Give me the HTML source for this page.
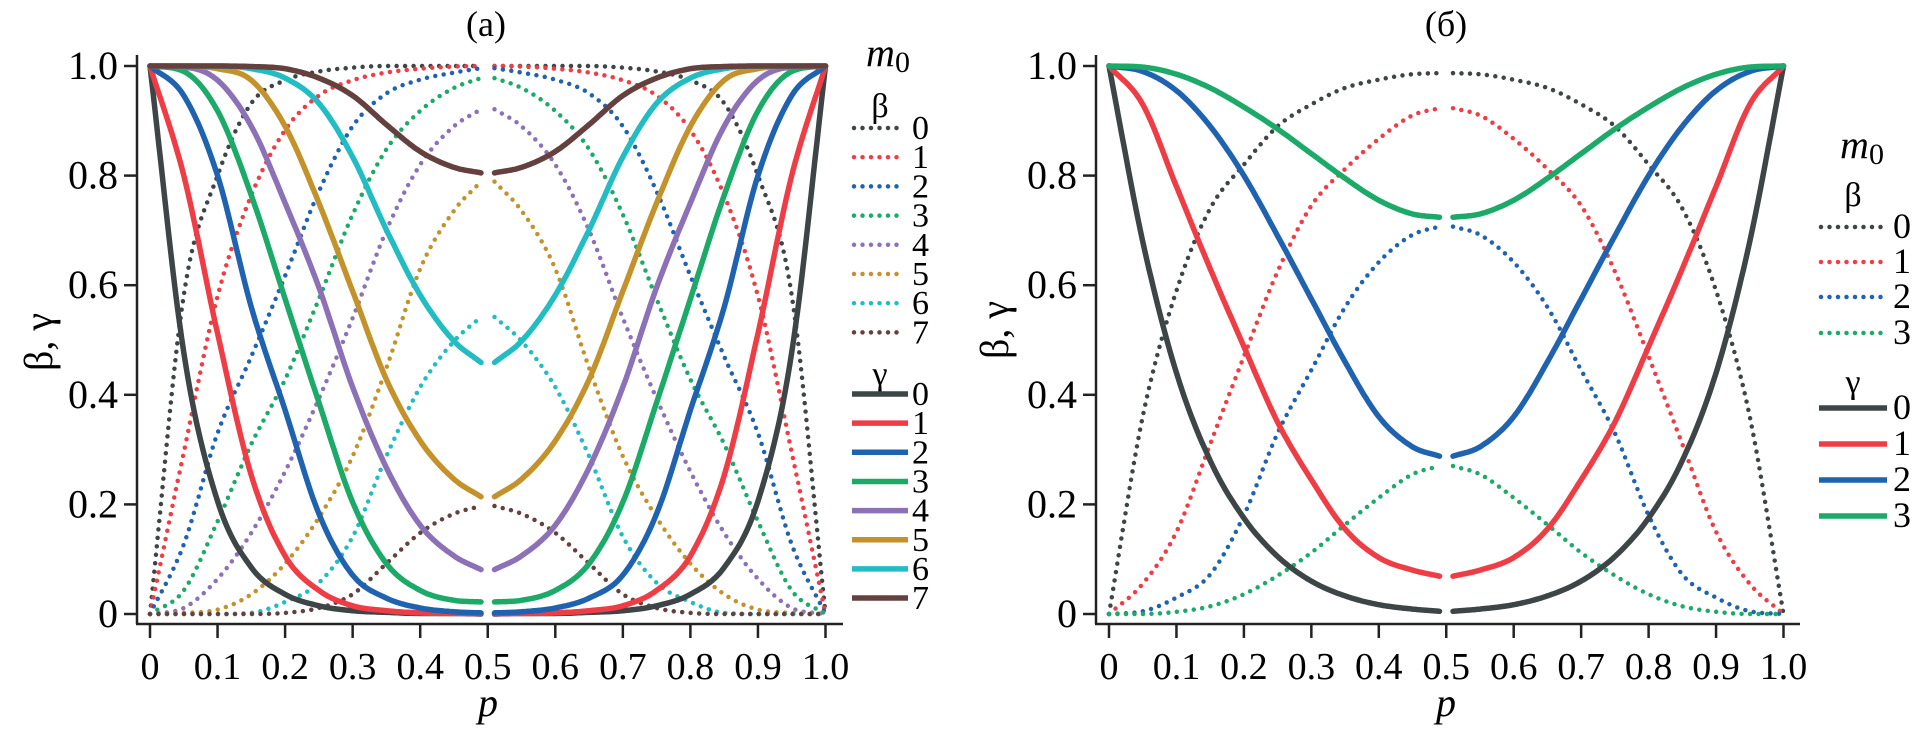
<!DOCTYPE html>
<html><head><meta charset="utf-8"><style>
html,body{margin:0;padding:0;background:#fff;}
svg{display:block;}
svg text{font-family:"Liberation Serif","Times New Roman",serif;}
</style></head><body>
<svg id="chart" width="1913" height="729" viewBox="0 0 1913 729">
<text x="486" y="36" font-size="36" text-anchor="middle">(а)</text>
<text x="1446" y="36" font-size="36" text-anchor="middle">(б)</text>
<text transform="translate(52,342) rotate(-90)" font-size="40" text-anchor="middle">β, γ</text>
<text transform="translate(1008,330) rotate(-90)" font-size="40" text-anchor="middle">β, γ</text>
<text x="488" y="716" font-size="40" font-style="italic" text-anchor="middle">p</text>
<text x="1446" y="716" font-size="40" font-style="italic" text-anchor="middle">p</text>
<g id="layer"></g>
</svg>
<script>
// ---- data ----
const pHalf = [0, 0.05, 0.10, 0.15, 0.20, 0.25, 0.30, 0.35, 0.40, 0.45, 0.49];
const xTicks = [0, 0.1, 0.2, 0.3, 0.4, 0.5, 0.6, 0.7, 0.8, 0.9, 1.0];
const xTickLabels = ["0","0.1","0.2","0.3","0.4","0.5","0.6","0.7","0.8","0.9","1.0"];
const yTicks = [0, 0.2, 0.4, 0.6, 0.8, 1.0];
const yTickLabels = ["0","0.2","0.4","0.6","0.8","1.0"];
const mLabelsA = ["0","1","2","3","4","5","6","7"];
const mLabelsB = ["0","1","2","3"];
// panel (a) gamma
const gammaA0 = [1, 0.477, 0.206, 0.085, 0.036, 0.015, 0.006, 0.003, 0.001, 0.001, 0.0];
const gammaA1 = [1, 0.80, 0.512, 0.253, 0.106, 0.043, 0.015, 0.006, 0.002, 0.001, 0.001];
const gammaA2 = [1, 0.946, 0.80, 0.56, 0.372, 0.183, 0.071, 0.029, 0.011, 0.004, 0.002];
const gammaA3 = [1, 0.99, 0.918, 0.764, 0.575, 0.386, 0.204, 0.092, 0.043, 0.025, 0.022];
const gammaA4 = [1, 0.998, 0.974, 0.89, 0.75, 0.596, 0.414, 0.267, 0.162, 0.106, 0.081];
const gammaA5 = [1, 1, 0.995, 0.974, 0.89, 0.75, 0.589, 0.428, 0.316, 0.246, 0.214];
const gammaA6 = [1, 1, 1, 0.995, 0.978, 0.932, 0.834, 0.701, 0.582, 0.498, 0.459];
const gammaA7 = [1, 1, 1, 0.999, 0.995, 0.978, 0.946, 0.893, 0.844, 0.815, 0.805];
// panel (a) beta
const betaA0 = [0, 0.582, 0.80, 0.932, 0.974, 0.99, 0.997, 1, 1, 1, 1];
const betaA1 = [0, 0.295, 0.58, 0.764, 0.883, 0.946, 0.974, 0.988, 0.995, 0.999, 1];
const betaA2 = [0, 0.127, 0.33, 0.47, 0.617, 0.771, 0.89, 0.95, 0.975, 0.988, 0.996];
const betaA3 = [0, 0.043, 0.169, 0.31, 0.428, 0.575, 0.729, 0.848, 0.918, 0.96, 0.978];
const betaA4 = [0, 0.011, 0.064, 0.148, 0.26, 0.393, 0.54, 0.70, 0.82, 0.89, 0.921];
const betaA5 = [0, 0.002, 0.008, 0.036, 0.092, 0.176, 0.288, 0.449, 0.63, 0.736, 0.789];
const betaA6 = [0, 0, 0, 0.002, 0.022, 0.057, 0.141, 0.288, 0.414, 0.498, 0.542];
const betaA7 = [0, 0, 0, 0, 0.002, 0.011, 0.036, 0.092, 0.148, 0.183, 0.197];
// panel (b) gamma
const gammaB0 = [1, 0.68, 0.44, 0.28, 0.175, 0.105, 0.06, 0.033, 0.017, 0.009, 0.005];
const gammaB1 = [1, 0.93, 0.78, 0.63, 0.488, 0.35, 0.245, 0.155, 0.103, 0.08, 0.069];
const gammaB2 = [1, 0.99, 0.955, 0.89, 0.80, 0.69, 0.575, 0.46, 0.36, 0.305, 0.288];
const gammaB3 = [1, 0.998, 0.985, 0.96, 0.925, 0.885, 0.84, 0.795, 0.755, 0.73, 0.724];
// panel (b) beta
const betaB0 = [0, 0.36, 0.59, 0.74, 0.82, 0.89, 0.93, 0.96, 0.975, 0.985, 0.987];
const betaB1 = [0, 0.055, 0.15, 0.31, 0.47, 0.625, 0.745, 0.812, 0.867, 0.91, 0.923];
const betaB2 = [0, 0.005, 0.03, 0.072, 0.18, 0.33, 0.445, 0.56, 0.642, 0.692, 0.707];
const betaB3 = [0, 0, 0.004, 0.014, 0.036, 0.07, 0.112, 0.163, 0.212, 0.255, 0.27];

const colors = ["#3e4547","#ef3d45","#1f63b0","#1caa69","#8d71b6","#c4922b","#22bcc3","#64403f"];
const NS = "http://www.w3.org/2000/svg";
const layer = document.getElementById("layer");
function mk(tag, attrs, parent){const e=document.createElementNS(NS,tag);for(const k in attrs)e.setAttribute(k,attrs[k]);(parent||layer).appendChild(e);return e;}

function makePanel(x0, x1, axisX, axisEnd, labelRight){
  const P = {
    x: p => x0 + (x1 - x0) * p,
    y: v => 614 - 548 * v,
  };
  const g = mk("g", {});
  const ya = mk("line",{x1:axisX,y1:55,x2:axisX,y2:624,stroke:"#222","stroke-width":2.5},g);
  
  
  const xa = mk("line",{x1:axisX-1,y1:624,x2:axisEnd,y2:624,stroke:"#222","stroke-width":2.5},g);
  
  
  yTicks.forEach((v,i)=>{
    const t = mk("line",{x1:axisX-13,y1:P.y(v),x2:axisX,y2:P.y(v),stroke:"#222","stroke-width":2.5},g);
    
    
    const l = mk("text",{x:labelRight,y:P.y(v)+13,"font-size":40,"text-anchor":"end"},g);
    l.textContent = yTickLabels[i];
    
    
  });
  xTicks.forEach((p,i)=>{
    const t = mk("line",{x1:P.x(p),y1:624,x2:P.x(p),y2:638,stroke:"#222","stroke-width":2.5},g);
    
    
    const l = mk("text",{x:P.x(p),y:679,"font-size":38,"text-anchor":"middle"},g);
    l.textContent = xTickLabels[i];
    
    
  });
  return P;
}

// monotone cubic (Fritsch-Carlson) sampler in data space
function monotone(xs, ys, steps){
  const n = xs.length, d = [], m = new Array(n);
  for(let i=0;i<n-1;i++) d.push((ys[i+1]-ys[i])/(xs[i+1]-xs[i]));
  m[0]=d[0]; m[n-1]=d[n-2];
  for(let i=1;i<n-1;i++){ m[i] = (d[i-1]*d[i]<=0) ? 0 : (d[i-1]+d[i])/2; }
  for(let i=0;i<n-1;i++){
    if(d[i]===0){m[i]=0;m[i+1]=0;continue;}
    const a=m[i]/d[i], b=m[i+1]/d[i], s=a*a+b*b;
    if(s>9){const t=3/Math.sqrt(s); m[i]=t*a*d[i]; m[i+1]=t*b*d[i];}
  }
  const out=[];
  for(let i=0;i<n-1;i++){
    const h=xs[i+1]-xs[i];
    for(let k=0;k<steps;k++){
      const t=k/steps, t2=t*t, t3=t2*t;
      const y=(2*t3-3*t2+1)*ys[i]+(t3-2*t2+t)*h*m[i]+(-2*t3+3*t2)*ys[i+1]+(t3-t2)*h*m[i+1];
      out.push([xs[i]+t*h, y]);
    }
  }
  out.push([xs[n-1], ys[n-1]]);
  return out;
}

function drawSeries(P, vals, color, dotted, name){
  const samp = monotone(pHalf, vals, 16);
  const left = samp.map(q=>[P.x(q[0]), P.y(q[1])]);
  const right = samp.map(q=>[P.x(1-q[0]), P.y(q[1])]).reverse();
  [left,right].forEach((pts,k)=>{
    const d = "M" + pts.map(q=>q[0].toFixed(1)+","+q[1].toFixed(1)).join(" L");
    const attrs = {d:d,fill:"none",stroke:color,"stroke-linecap":"round","stroke-linejoin":"round"};
    if(dotted){attrs["stroke-width"]=4.5;attrs["stroke-dasharray"]="0 8.5";}
    else {attrs["stroke-width"]=5.5;}
    const path = mk("path",attrs);
    
    
  });
}

function legend(x1,x2,numX,mX,mY,bY,bRows,gY,gRows,labels,fs,prefix){
  const mt = mk("text",{x:mX,y:mY,"font-size":40,"font-style":"italic","text-anchor":"middle"});
  mt.innerHTML = 'm<tspan font-style="normal" font-size="30" dy="6">0</tspan>';
  
  
  const bt = mk("text",{x:(x1+x2)/2,y:bY,"font-size":34,"text-anchor":"middle"});
  bt.textContent = "β";
  
  
  const gt = mk("text",{x:(x1+x2)/2,y:gY,"font-size":34,"text-anchor":"middle"});
  gt.textContent = "γ";
  
  
  labels.forEach((lab,i)=>{
    const yb = bRows[i], yg = gRows[i];
    const lb = mk("line",{x1:x1+2,y1:yb,x2:x2-6,y2:yb,stroke:colors[i],"stroke-width":4.5,"stroke-linecap":"round","stroke-dasharray":"0 8.5"});
    
    
    const tb = mk("text",{x:numX,y:yb+11,"font-size":fs});
    tb.textContent = lab;
    
    
    const lg = mk("line",{x1:x1,y1:yg,x2:x2,y2:yg,stroke:colors[i],"stroke-width":5.5});
    
    
    const tg = mk("text",{x:numX,y:yg+11,"font-size":fs});
    tg.textContent = lab;
    
    
  });
}

const PA = makePanel(150, 825.5, 137, 843, 118);
const PB = makePanel(1109, 1783.5, 1096, 1800, 1077);

const betaA = [betaA0,betaA1,betaA2,betaA3,betaA4,betaA5,betaA6,betaA7];
const gammaA = [gammaA0,gammaA1,gammaA2,gammaA3,gammaA4,gammaA5,gammaA6,gammaA7];
const betaB = [betaB0,betaB1,betaB2,betaB3];
const gammaB = [gammaB0,gammaB1,gammaB2,gammaB3];

betaA.forEach((s,i)=>drawSeries(PA,s,colors[i],true,'a-beta-'+i));
gammaA.forEach((s,i)=>drawSeries(PA,s,colors[i],false,'a-gamma-'+i));
betaB.forEach((s,i)=>drawSeries(PB,s,colors[i],true,'b-beta-'+i));
gammaB.forEach((s,i)=>drawSeries(PB,s,colors[i],false,'b-gamma-'+i));

const rowsAb=[], rowsAg=[];
for(let i=0;i<8;i++){rowsAb.push(128+29.2*i); rowsAg.push(394+29.15*i);}
legend(852,908,912,888,66,117,rowsAb,385,rowsAg,mLabelsA,34,'a');
const rowsBb=[227,262,297,333], rowsBg=[408,444,480,516];
legend(1819,1887,1893,1862,158,206,rowsBb,393,rowsBg,mLabelsB,36,'b');
</script>
</body></html>
